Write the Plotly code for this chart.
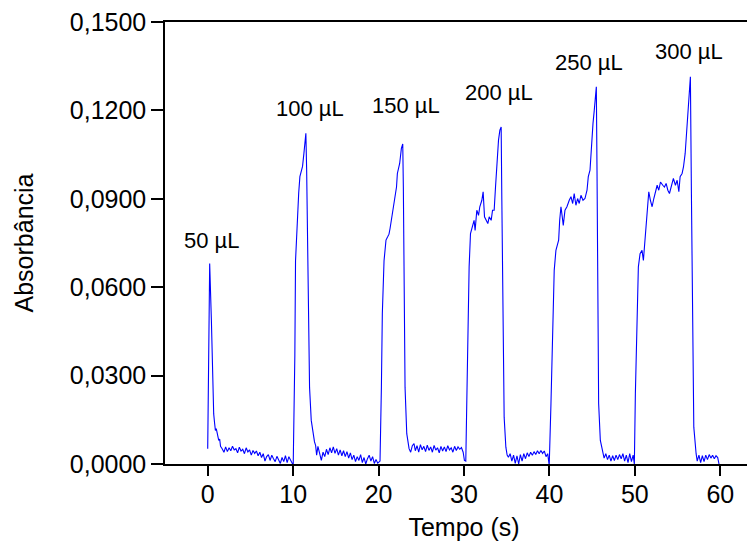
import plotly.graph_objects as go

# ---- data (time in s, absorbance) ----
t_50 = [0.00, 0.23, 0.43, 0.59, 0.70, 0.80, 0.90, 1.00, 1.10, 1.20, 1.29, 1.40, 1.50, 1.69,
        1.9, 2.1, 2.3, 2.5, 2.7, 2.9, 3.1, 3.3, 3.5, 3.7, 3.9, 4.1, 4.3, 4.5, 4.7, 4.9,
        5.1, 5.3, 5.5, 5.7, 5.9, 6.1, 6.3, 6.5, 6.7, 6.9, 7.1, 7.3, 7.5, 7.7, 7.9,
        8.1, 8.3, 8.5, 8.7, 8.9, 9.1, 9.3, 9.5, 9.7, 9.9]
a_50 = [0.0052, 0.0680, 0.0488, 0.0260, 0.0170, 0.0140, 0.0114, 0.0120, 0.0103, 0.0090, 0.0080, 0.0085, 0.0060, 0.0052,
        0.0040, 0.0058, 0.0042, 0.0055, 0.0045, 0.0060, 0.0048, 0.0052, 0.0038, 0.0057, 0.0044, 0.0050, 0.0035, 0.0055, 0.0041, 0.0048,
        0.0030, 0.0046, 0.0036, 0.0044, 0.0028, 0.0040, 0.0022, 0.0035, 0.0010, 0.0025, 0.0032, 0.0012, 0.0030, 0.0018, 0.0008,
        0.0026, 0.0015, 0.0002, 0.0022, 0.0008, 0.0028, 0.0005, 0.0025, 0.0010, 0.0002]

t_100 = [10.01, 10.10, 10.20, 10.28, 10.48, 10.65, 10.79, 10.98, 11.10, 11.26, 11.40, 11.49, 11.58, 11.65, 11.77,
         11.92, 12.12, 12.25, 12.36, 12.50, 12.63, 12.75,
         12.9, 13.1, 13.3, 13.5, 13.7, 13.9, 14.1, 14.3, 14.5, 14.7, 14.9, 15.1, 15.3, 15.5, 15.7, 15.9,
         16.1, 16.3, 16.5, 16.7, 16.9, 17.1, 17.3, 17.5, 17.7, 17.9, 18.1, 18.3, 18.5, 18.7, 18.9,
         19.1, 19.3, 19.5, 19.7, 19.9, 20.1]
a_100 = [0.0000, 0.0150, 0.0370, 0.0690, 0.0830, 0.0920, 0.0975, 0.0997, 0.1010, 0.1054, 0.1095, 0.1122, 0.1000, 0.0827, 0.0488,
         0.0260, 0.0148, 0.0120, 0.0091, 0.0075, 0.0063, 0.0030,
         0.0060, 0.0035, 0.0012, 0.0040, 0.0025, 0.0050, 0.0032, 0.0055, 0.0038, 0.0058, 0.0036, 0.0052, 0.0030, 0.0048, 0.0028, 0.0045,
         0.0025, 0.0042, 0.0020, 0.0038, 0.0015, 0.0030, 0.0008, 0.0025, 0.0012, 0.0032, 0.0005, 0.0022, 0.0000, 0.0018, 0.0030,
         0.0010, 0.0025, 0.0002, 0.0015, 0.0003, 0.0010]

t_150 = [20.17, 20.33, 20.44, 20.64, 20.87, 21.05, 21.22, 21.35, 21.50, 21.65, 21.81, 22.00, 22.10, 22.20, 22.35,
         22.47, 22.67, 22.83, 22.90, 22.98, 23.10, 23.30, 23.45, 23.57, 23.76, 23.95, 24.15,
         24.3, 24.5, 24.7, 24.9, 25.1, 25.3, 25.5, 25.7, 25.9, 26.1, 26.3, 26.5, 26.7, 26.9,
         27.1, 27.3, 27.5, 27.7, 27.9, 28.1, 28.3, 28.5, 28.7, 28.9, 29.1, 29.3, 29.5, 29.7, 29.9, 30.05]
a_150 = [0.0010, 0.0260, 0.0510, 0.0690, 0.0760, 0.0770, 0.0780, 0.0800, 0.0827, 0.0850, 0.0884, 0.0918, 0.0940, 0.0986, 0.1005,
         0.1020, 0.1071, 0.1086, 0.0940, 0.0600, 0.0260, 0.0103, 0.0070, 0.0052, 0.0040, 0.0062, 0.0069,
         0.0045, 0.0062, 0.0040, 0.0066, 0.0048, 0.0060, 0.0042, 0.0064, 0.0046, 0.0058, 0.0040, 0.0063, 0.0047, 0.0055,
         0.0038, 0.0060, 0.0044, 0.0058, 0.0042, 0.0062, 0.0048, 0.0055, 0.0040, 0.0060, 0.0046, 0.0058, 0.0050, 0.0056, 0.0040, 0.0012]

t_200 = [30.21, 30.33, 30.45, 30.60, 30.76, 31.00, 31.18, 31.30, 31.50, 31.70, 31.85, 32.09, 32.24, 32.40, 32.63,
         32.79, 32.95, 33.18, 33.34, 33.53, 33.69, 33.85, 34.04, 34.20, 34.35, 34.43, 34.55, 34.70, 34.90, 35.05, 35.20,
         35.4, 35.6, 35.8, 36.0, 36.2, 36.4, 36.6, 36.8, 37.0, 37.2, 37.4, 37.6, 37.8, 38.0,
         38.2, 38.4, 38.6, 38.8, 39.0, 39.2, 39.4, 39.6, 39.8, 39.95]
a_200 = [0.0010, 0.0216, 0.0440, 0.0669, 0.0782, 0.0805, 0.0827, 0.0793, 0.0861, 0.0844, 0.0873, 0.0895, 0.0924, 0.0839, 0.0827,
         0.0816, 0.0839, 0.0827, 0.0861, 0.0861, 0.0940, 0.1031, 0.1099, 0.1133, 0.1144, 0.0895, 0.0443, 0.0159, 0.0057, 0.0030, 0.0023,
         0.0035, 0.0010, 0.0030, 0.0002, 0.0028, 0.0000, 0.0032, 0.0010, 0.0035, 0.0018, 0.0038, 0.0025, 0.0040, 0.0030,
         0.0042, 0.0032, 0.0045, 0.0035, 0.0046, 0.0036, 0.0044, 0.0025, 0.0035, 0.0000]

t_250 = [39.98, 40.18, 40.37, 40.56, 40.76, 40.96, 41.08, 41.20, 41.35, 41.50, 41.62, 41.82, 42.05, 42.32, 42.52,
         42.72, 42.90, 43.10, 43.30, 43.49, 43.69, 43.93, 44.16, 44.40, 44.55, 44.75, 44.95, 45.10, 45.25, 45.37,
         45.49, 45.57, 45.65, 45.76, 45.96, 46.23,
         46.4, 46.6, 46.8, 47.0, 47.2, 47.4, 47.6, 47.8, 48.0, 48.2, 48.4, 48.6, 48.8, 49.0, 49.2, 49.4, 49.6, 49.8]
a_250 = [0.0000, 0.0205, 0.0430, 0.0657, 0.0725, 0.0742, 0.0760, 0.0827, 0.0873, 0.0839, 0.0810, 0.0861, 0.0873, 0.0895, 0.0907,
         0.0884, 0.0918, 0.0878, 0.0901, 0.0884, 0.0912, 0.0895, 0.0901, 0.0929, 0.0975, 0.0997, 0.1110, 0.1156, 0.1201, 0.1246,
         0.1280, 0.0997, 0.0544, 0.0205, 0.0080, 0.0035,
         0.0020, 0.0035, 0.0015, 0.0030, 0.0010, 0.0028, 0.0012, 0.0030, 0.0015, 0.0032, 0.0018, 0.0035, 0.0010, 0.0030, 0.0005, 0.0035, 0.0008, 0.0030]

t_300 = [49.94, 50.06, 50.22, 50.41, 50.61, 50.84, 51.00, 51.12, 51.32, 51.51, 51.63, 51.82, 52.02, 52.22, 52.41,
         52.61, 52.80, 53.00, 53.27, 53.46, 53.66, 53.86, 54.05, 54.25, 54.51, 54.75, 54.95, 55.15, 55.30, 55.53,
         55.69, 55.89, 56.08, 56.24, 56.39, 56.50, 56.62, 56.74, 56.90, 57.17,
         57.3, 57.5, 57.7, 57.9, 58.1, 58.3, 58.5, 58.7, 58.9, 59.1, 59.3, 59.5, 59.7, 59.85]
a_300 = [0.0000, 0.0238, 0.0465, 0.0669, 0.0714, 0.0725, 0.0691, 0.0737, 0.0827, 0.0895, 0.0924, 0.0895, 0.0873, 0.0901, 0.0929,
         0.0946, 0.0929, 0.0957, 0.0946, 0.0940, 0.0952, 0.0929, 0.0918, 0.0940, 0.0969, 0.0946, 0.0963, 0.0924, 0.0975, 0.0986,
         0.1008, 0.1054, 0.1144, 0.1190, 0.1258, 0.1314, 0.0918, 0.0465, 0.0125, 0.0035,
         0.0010, 0.0030, 0.0005, 0.0028, 0.0008, 0.0030, 0.0015, 0.0032, 0.0020, 0.0030, 0.0018, 0.0028, 0.0022, 0.0000]

label_text = ["50 µL", "100 µL", "150 µL", "200 µL", "250 µL", "300 µL"]
label_t = [0.5, 11.95, 23.24, 34.1, 44.67, 56.36]
label_a = [0.0759, 0.1205, 0.1216, 0.1262, 0.1363, 0.1399]

y_ticks = [0.0, 0.03, 0.06, 0.09, 0.12, 0.15]
x_ticks = [0, 10, 20, 30, 40, 50, 60]

tempo = t_50 + t_100 + t_150 + t_200 + t_250 + t_300
absorb = a_50 + a_100 + a_150 + a_200 + a_250 + a_300

FONT = "Arial, Liberation Sans, sans-serif"

fig = go.Figure()
fig.add_trace(go.Scatter(x=tempo, y=absorb, mode="lines",
                         line=dict(color="#0000FF", width=1.1),
                         showlegend=False, hoverinfo="skip"))

for txt, tx, ay in zip(label_text, label_t, label_a):
    fig.add_annotation(x=tx, y=ay, text=txt, showarrow=False,
                       xanchor="center", yanchor="middle",
                       font=dict(family=FONT, size=22, color="black"))

fig.update_layout(
    width=755, height=556,
    margin=dict(l=157, r=0, t=14, b=100),
    paper_bgcolor="white", plot_bgcolor="white",
    separators=",.",
    font=dict(family=FONT, size=25, color="black"),
)
fig.update_xaxes(
    range=[-5, 65], tickvals=x_ticks, ticks="outside", ticklen=10, tickwidth=1.5,
    tickcolor="black", showline=True, linecolor="black", linewidth=1.5, mirror=True,
    showgrid=False, zeroline=False, automargin=False, ticklabelstandoff=-3,
    ticklabeloverflow="allow",
    title=dict(text="Tempo (s)", font=dict(family=FONT, size=25), standoff=12),
    tickfont=dict(family=FONT, size=25),
)
fig.update_yaxes(
    range=[0, 0.15], tickvals=y_ticks, tickformat=".4f", ticks="outside", ticklen=12, tickwidth=1.5,
    tickcolor="black", showline=True, linecolor="black", linewidth=1.5,
    showgrid=False, zeroline=False, automargin=False, ticklabeloverflow="allow",
    title=dict(text="Absorbância", font=dict(family=FONT, size=25), standoff=29),
    tickfont=dict(family=FONT, size=25),
)

fig.write_html("out.html")
